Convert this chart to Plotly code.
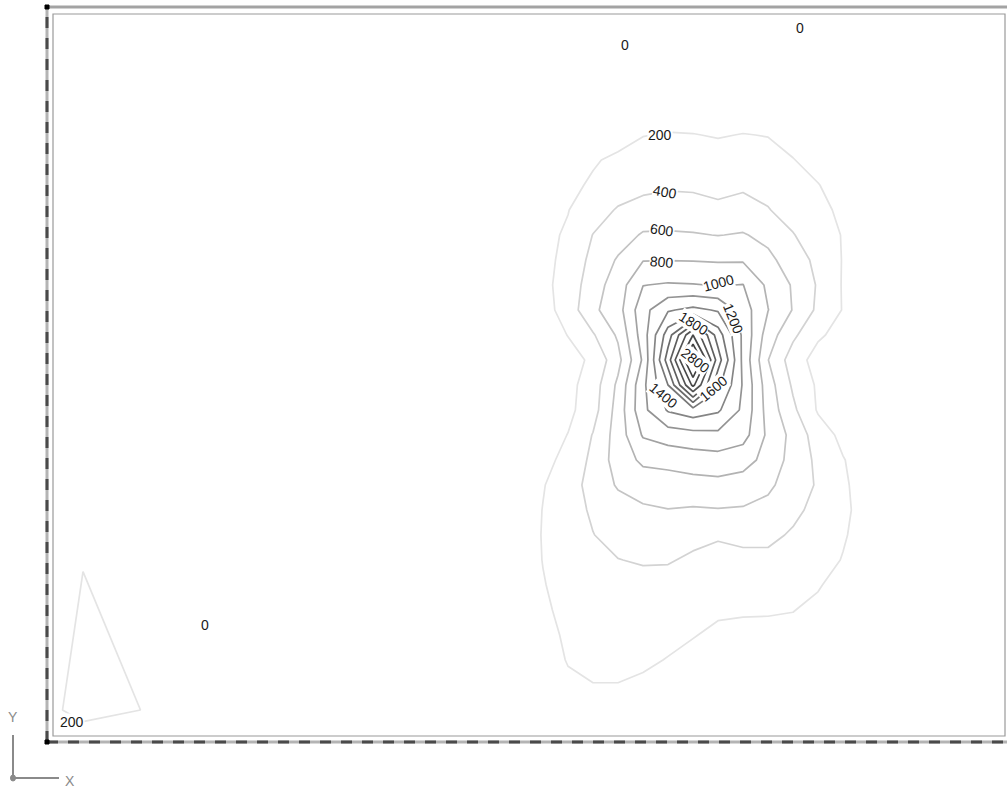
import plotly.graph_objects as go

# ---------------- data ----------------
# grid node coordinates (drawing units)
x_nodes = [45.0, 47.5, 50.0, 52.5, 55.0, 57.5, 60.0, 62.5, 65.0, 67.5, 70.0,
           72.5, 75.0, 77.5, 80.0, 82.5, 85.0]
y_nodes = [5.0, 7.5, 10.0, 12.5, 15.0, 17.5, 20.0, 22.5, 25.0, 27.5, 30.0,
           32.5, 35.0, 37.5, 40.0, 42.5, 45.0, 47.5, 50.0, 52.5, 55.0, 57.5,
           60.0, 62.5, 65.0, 70.0]

# estimated field values at the nodes (rows follow y_nodes, bottom to top)
z_values = [
    [0, 15, 50, 100, 130, 130, 120, 110, 95, 80, 65, 55, 40, 30, 15, 5, 0],
    [0, 30, 90, 170, 196, 196, 180, 160, 140, 120, 100, 90, 70, 50, 25, 10, 0],
    [5, 40, 120, 210, 240, 240, 220, 195, 170, 150, 140, 130, 110, 80, 40, 15, 5],
    [10, 60, 150, 225, 260, 270, 255, 230, 205, 180, 175, 170, 150, 110, 60, 25, 5],
    [10, 70, 170, 250, 280, 290, 280, 260, 240, 215, 210, 210, 205, 160, 90, 40, 10],
    [15, 80, 190, 270, 320, 340, 330, 310, 290, 270, 270, 270, 250, 215, 130, 60, 15],
    [20, 90, 205, 290, 360, 395, 420, 420, 360, 340, 350, 360, 330, 280, 190, 90, 20],
    [20, 90, 210, 300, 395, 470, 510, 510, 470, 420, 450, 440, 380, 320, 220, 110, 25],
    [20, 85, 205, 310, 430, 520, 570, 595, 580, 590, 580, 540, 440, 350, 240, 120, 25],
    [20, 80, 190, 300, 480, 620, 690, 710, 725, 740, 720, 640, 500, 380, 230, 110, 25],
    [15, 60, 150, 250, 450, 690, 840, 860, 900, 920, 870, 740, 520, 360, 210, 100, 20],
    [10, 45, 100, 205, 410, 690, 1020, 1100, 1130, 1150, 1080, 760, 540, 300, 150, 70, 15],
    [10, 40, 85, 150, 320, 680, 1150, 1420, 1520, 1430, 1160, 720, 440, 180, 100, 45, 10],
    [10, 40, 80, 140, 300, 640, 1150, 1600, 2450, 1650, 1180, 690, 370, 170, 90, 45, 10],
    [10, 40, 80, 130, 235, 537, 1030, 1900, 2950, 1900, 1150, 605, 300, 120, 80, 40, 10],
    [15, 55, 100, 205, 380, 630, 1100, 1700, 2400, 1700, 1160, 700, 440, 230, 130, 70, 20],
    [25, 70, 120, 290, 560, 720, 1130, 1380, 1450, 1380, 1100, 805, 590, 360, 190, 100, 35],
    [25, 80, 150, 280, 510, 700, 995, 1020, 1010, 990, 1005, 760, 580, 380, 185, 100, 35],
    [25, 80, 150, 250, 460, 620, 790, 795, 790, 780, 780, 650, 500, 350, 190, 110, 40],
    [30, 90, 160, 220, 405, 510, 620, 625, 615, 595, 615, 545, 410, 290, 190, 120, 45],
    [25, 80, 140, 195, 300, 420, 470, 480, 470, 440, 470, 410, 320, 240, 170, 100, 35],
    [10, 55, 110, 165, 220, 290, 350, 375, 370, 345, 370, 340, 270, 205, 140, 80, 20],
    [0, 20, 70, 130, 185, 230, 270, 285, 280, 265, 280, 255, 205, 150, 90, 40, 0],
    [0, 0, 0, 40, 80, 140, 195, 210, 205, 190, 205, 195, 150, 100, 50, 10, 0],
    [0, 0, 0, 10, 40, 75, 110, 120, 120, 115, 120, 110, 80, 50, 20, 0, 0],
    [0, 0, 0, 0, 5, 15, 30, 40, 40, 40, 40, 35, 25, 10, 0, 0, 0],
]

# small secondary area in the lower-left corner
corner_x = [-0.2, 4.0, 15.8]
corner_y = [2.6, 5.0, 33.4]
corner_z = [
    [0, 0, 0],
    [0, 390, 0],
    [0, 0, 0],
]

# contour levels and their line greys
level_start, level_end, level_step = 200, 2800, 200
level_colors = ["#e4e4e4", "#d3d3d3", "#c4c4c4", "#b3b3b3", "#a2a2a2", "#939393",
                "#858585", "#777777", "#6a6a6a", "#5e5e5e", "#535353", "#494949",
                "#404040", "#383838"]

# contour labels: text, x, y, angle
label_texts = ["200", "400", "600", "800", "1000", "1200", "1800", "2800",
               "1400", "1600", "200", "0", "0", "0"]
label_x = [61.7, 62.2, 61.9, 61.9, 67.5, 69.0, 65.0, 65.2, 62.0, 67.0, 2.9, 58.2, 75.7, 16.2]
label_y = [62.5, 56.8, 53.0, 49.8, 47.7, 44.2, 43.7, 40.0, 36.5, 37.1, 3.8, 71.5, 73.2, 13.5]
label_angle = [0, 10, 8, 5, -15, 68, 32, 38, 40, -40, 0, 0, 0, 0]

# ---------------- figure ----------------
n_levels = len(level_colors)
colorscale = [[i / (n_levels - 1), c] for i, c in enumerate(level_colors)]

contour_common = dict(
    contours=dict(start=level_start, end=level_end, size=level_step,
                  coloring="lines", showlabels=False),
    colorscale=colorscale, zmin=level_start, zmax=level_end, zauto=False,
    showscale=False, line=dict(width=1.7, smoothing=0), hoverinfo="skip",
)

fig = go.Figure()
fig.add_trace(go.Contour(x=x_nodes, y=y_nodes, z=z_values, **contour_common))
fig.add_trace(go.Contour(x=corner_x, y=corner_y, z=corner_z, **contour_common))

for t, lx, ly, a in zip(label_texts, label_x, label_y, label_angle):
    fig.add_annotation(x=lx, y=ly, text=t, textangle=a, showarrow=False,
                       font=dict(family="Liberation Sans, Arial, sans-serif", size=14, color="#1a1a1a"),
                       bgcolor="white", borderpad=0)

shapes = []
# inner drawing rectangle
shapes.append(dict(type="rect", x0=1.0, x1=96.2, y0=2.4, y1=74.6,
                   line=dict(color="#9a9a9a", width=1.2)))
# top thick border
shapes.append(dict(type="line", x0=0.2, x1=96.6, y0=75.3, y1=75.3,
                   line=dict(color="#a3a3a3", width=3)))
# left and bottom dashed borders (light base + dark dashes)
for (x0, x1, y0, y1) in [(0.4, 0.4, 1.8, 75.4), (0.4, 96.6, 1.8, 1.8)]:
    shapes.append(dict(type="line", x0=x0, x1=x1, y0=y0, y1=y1,
                       line=dict(color="#b4b4b4", width=3)))
    shapes.append(dict(type="line", x0=x0, x1=x1, y0=y0, y1=y1,
                       line=dict(color="#4a4a4a", width=3, dash="11px,10px")))
# corner marks
shapes.append(dict(type="rect", x0=0.2, x1=0.6, y0=75.1, y1=75.5,
                   fillcolor="black", line=dict(color="black", width=1)))
shapes.append(dict(type="rect", x0=0.2, x1=0.6, y0=1.6, y1=2.0,
                   fillcolor="black", line=dict(color="black", width=1)))
# UCS icon
shapes.append(dict(type="line", x0=-3.0, x1=-3.0, y0=-1.8, y1=2.5,
                   line=dict(color="#8a8a8a", width=2)))
shapes.append(dict(type="line", x0=-3.0, x1=1.6, y0=-1.8, y1=-1.8,
                   line=dict(color="#8a8a8a", width=2)))
shapes.append(dict(type="circle", x0=-3.25, x1=-2.75, y0=-2.1, y1=-1.5,
                   fillcolor="#8a8a8a", line=dict(color="#8a8a8a", width=1)))
fig.update_layout(shapes=shapes)

fig.add_annotation(x=-3.0, y=4.3, text="Y", showarrow=False,
                   font=dict(family="Liberation Sans, Arial, sans-serif", size=14, color="#8a8a8a"))
fig.add_annotation(x=2.7, y=-2.1, text="X", showarrow=False,
                   font=dict(family="Liberation Sans, Arial, sans-serif", size=14, color="#8a8a8a"))

fig.update_layout(
    width=1007, height=793,
    margin=dict(l=0, r=0, t=0, b=0),
    paper_bgcolor="white", plot_bgcolor="white",
    xaxis=dict(range=[-4.3, 96.4], visible=False, fixedrange=True),
    yaxis=dict(range=[-3.3, 76.0], visible=False, fixedrange=True),
    showlegend=False,
)

fig.write_html("out.html", config={"displayModeBar": False},
               post_script="document.body.style.margin='0';document.body.style.overflow='hidden';")
